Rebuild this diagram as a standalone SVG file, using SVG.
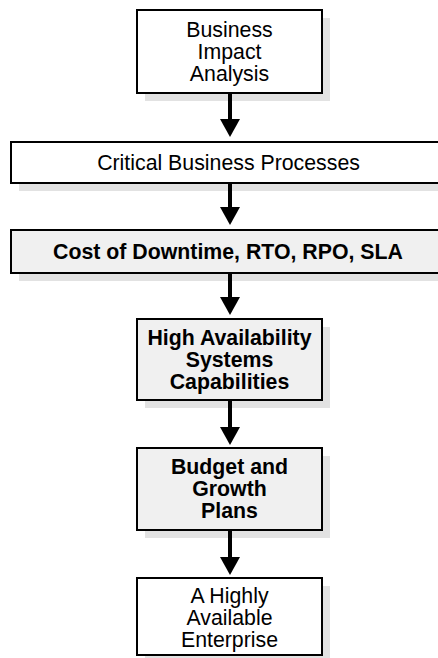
<svg xmlns="http://www.w3.org/2000/svg" width="438" height="658" viewBox="0 0 438 658">
<defs>
<style>
.box{stroke:#000;stroke-width:2}
.w{fill:#fff}
.g{fill:#f0f0f0}
.sh{fill:#e2e2e2}
.t{font-family:"Liberation Sans",Arial,sans-serif;font-size:21.3px;fill:#000;text-anchor:middle}
.b{font-weight:bold}
.conn{stroke:#000;stroke-width:4;fill:none}
</style>
<marker id="ah" viewBox="0 0 18 20" refX="0" refY="10" markerWidth="18" markerHeight="20" markerUnits="userSpaceOnUse" orient="auto">
<path d="M0,0 L18,10 L0,20 z" fill="#000"/>
</marker>
</defs>
<rect width="438" height="658" fill="#fff"/>
<g id="n1">
<rect class="sh" x="145" y="18" width="185" height="83"/>
<rect class="box w" x="137" y="10" width="185" height="83"/>
<text class="t" x="229.5" y="37">Business</text>
<text class="t" x="229.5" y="59">Impact</text>
<text class="t" x="229.5" y="81">Analysis</text>
</g>
<g id="n2">
<rect class="sh" x="19" y="150" width="440" height="41"/>
<rect class="box w" x="11" y="142" width="440" height="41"/>
<text class="t" x="228.5" y="170">Critical Business Processes</text>
</g>
<g id="n3">
<rect class="sh" x="19" y="238" width="440" height="43"/>
<rect class="box g" x="11" y="230" width="440" height="43"/>
<text class="t b" x="228" y="258.5">Cost of Downtime, RTO, RPO, SLA</text>
</g>
<g id="n4">
<rect class="sh" x="145" y="327" width="185" height="81"/>
<rect class="box g" x="137" y="319" width="185" height="81"/>
<text class="t b" x="229.5" y="345">High Availability</text>
<text class="t b" x="229.5" y="367">Systems</text>
<text class="t b" x="229.5" y="389">Capabilities</text>
</g>
<g id="n5">
<rect class="sh" x="145" y="456" width="185" height="82"/>
<rect class="box g" x="137" y="448" width="185" height="82"/>
<text class="t b" x="229.5" y="474">Budget and</text>
<text class="t b" x="229.5" y="496">Growth</text>
<text class="t b" x="229.5" y="518">Plans</text>
</g>
<g id="n6">
<rect class="sh" x="145" y="586" width="185" height="77"/>
<rect class="box w" x="137" y="578" width="185" height="77"/>
<text class="t" x="229.5" y="603">A Highly</text>
<text class="t" x="229.5" y="625">Available</text>
<text class="t" x="229.5" y="647">Enterprise</text>
</g>
<g id="connectors">
<line class="conn" x1="230" y1="94" x2="230" y2="119" marker-end="url(#ah)"/>
<line class="conn" x1="230" y1="184" x2="230" y2="207" marker-end="url(#ah)"/>
<line class="conn" x1="230" y1="274" x2="230" y2="297" marker-end="url(#ah)"/>
<line class="conn" x1="230" y1="401" x2="230" y2="427" marker-end="url(#ah)"/>
<line class="conn" x1="230" y1="531" x2="230" y2="557" marker-end="url(#ah)"/>
</g>
</svg>
